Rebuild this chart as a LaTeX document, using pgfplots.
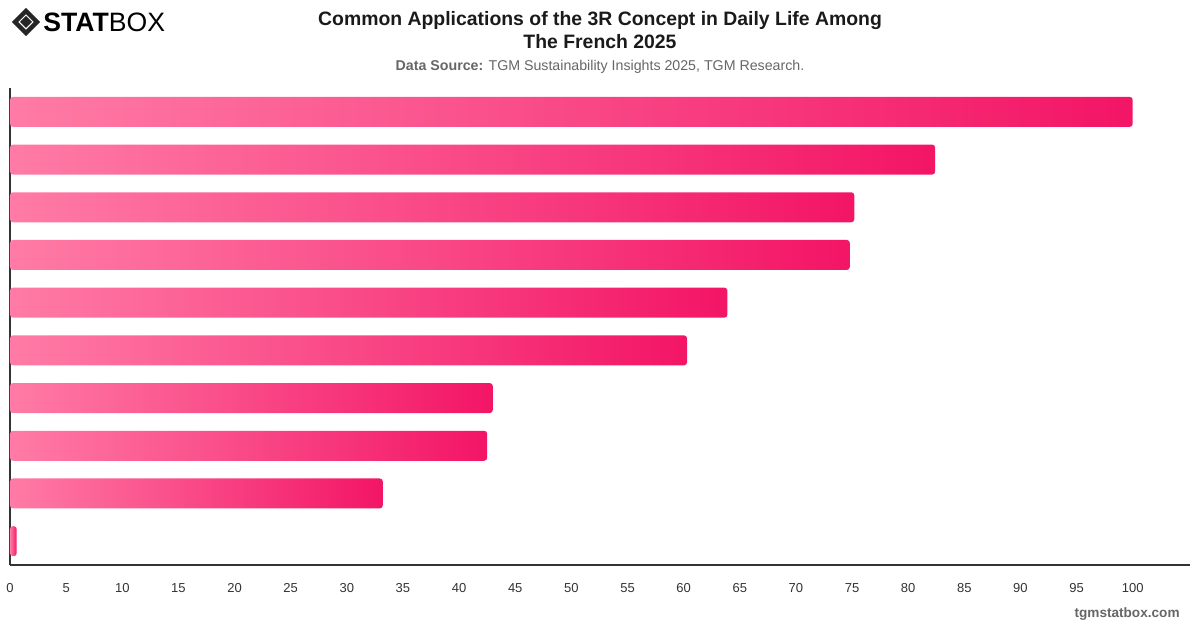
\documentclass[border=0pt]{standalone}
\usepackage{pgfplots}
\pgfplotsset{compat=1.18}
\usepackage{fontspec}
\setmainfont{Liberation Sans}
\definecolor{barL}{HTML}{FF7BA6}
\definecolor{barR}{HTML}{F31566}
\definecolor{axisdark}{HTML}{333333}
\definecolor{subgray}{HTML}{666666}
\definecolor{titleblack}{HTML}{1A1A1A}

\pgfplotsset{
  gradbar/.style={xbar, bar width=15pt, bar shift=0pt, draw=none,
    left color=barL, right color=barR, rounded corners=1.5pt},
}

\begin{document}
\begin{tikzpicture}[x=0.5pt,y=0.5pt]
\useasboundingbox (0,0) rectangle (1200,628);

% logo
\begin{scope}[shift={(26,606)}]
  \draw[line width=2.2pt,black!85] (0,11) -- (11,0) -- (0,-11) -- (-11,0) -- cycle;
  \fill[black!85] (0,6) -- (6,0) -- (0,-6) -- (-6,0) -- cycle;
\end{scope}
\node[anchor=west,inner sep=0pt] at (43,606)
  {\fontsize{13.3pt}{14pt}\selectfont\textbf{STAT}BOX};

% title and source
\node[align=center,inner sep=0pt,text=titleblack,
      font=\fontsize{9.7pt}{11.5pt}\selectfont\bfseries] at (600,598)
  {Common Applications of the 3R Concept in Daily Life Among\\ The French 2025};
\node[inner sep=0pt,text=subgray,font=\fontsize{7.1pt}{8pt}\selectfont] at (600,561)
  {\textbf{Data Source:} TGM Sustainability Insights 2025, TGM Research.};

\begin{axis}[
  at={(5pt,31.5pt)}, anchor=south west,
  scale only axis,
  width=590pt, height=238.5pt,
  xmin=0, xmax=105.1,
  ymin=-0.5, ymax=9.5,
  y dir=reverse,
  axis x line*=bottom, axis y line*=left,
  axis line style={-, axisdark, line width=0.6pt},
  xtick={0,5,...,100},
  ytick=\empty,
  major tick length=0pt,
  xticklabel style={font=\fontsize{6.5pt}{7pt}\selectfont, text=axisdark, yshift=-5.5pt},
  /pgf/number format/assume math mode=true,
  clip=false,
]
% one plot per bar, so each bar carries its own gradient
\addplot[gradbar] coordinates {(100,0)};
\addplot[gradbar] coordinates {(82.4,1)};
\addplot[gradbar] coordinates {(75.2,2)};
\addplot[gradbar] coordinates {(74.8,3)};
\addplot[gradbar] coordinates {(63.9,4)};
\addplot[gradbar] coordinates {(60.3,5)};
\addplot[gradbar] coordinates {(43.0,6)};
\addplot[gradbar] coordinates {(42.5,7)};
\addplot[gradbar] coordinates {(33.2,8)};
\addplot[gradbar] coordinates {(0.6,9)};
\end{axis}

\node[anchor=east,inner sep=0pt,text=subgray,font=\fontsize{6.8pt}{8pt}\selectfont\bfseries] at (1180,14)
  {tgmstatbox.com};
\end{tikzpicture}
\end{document}
